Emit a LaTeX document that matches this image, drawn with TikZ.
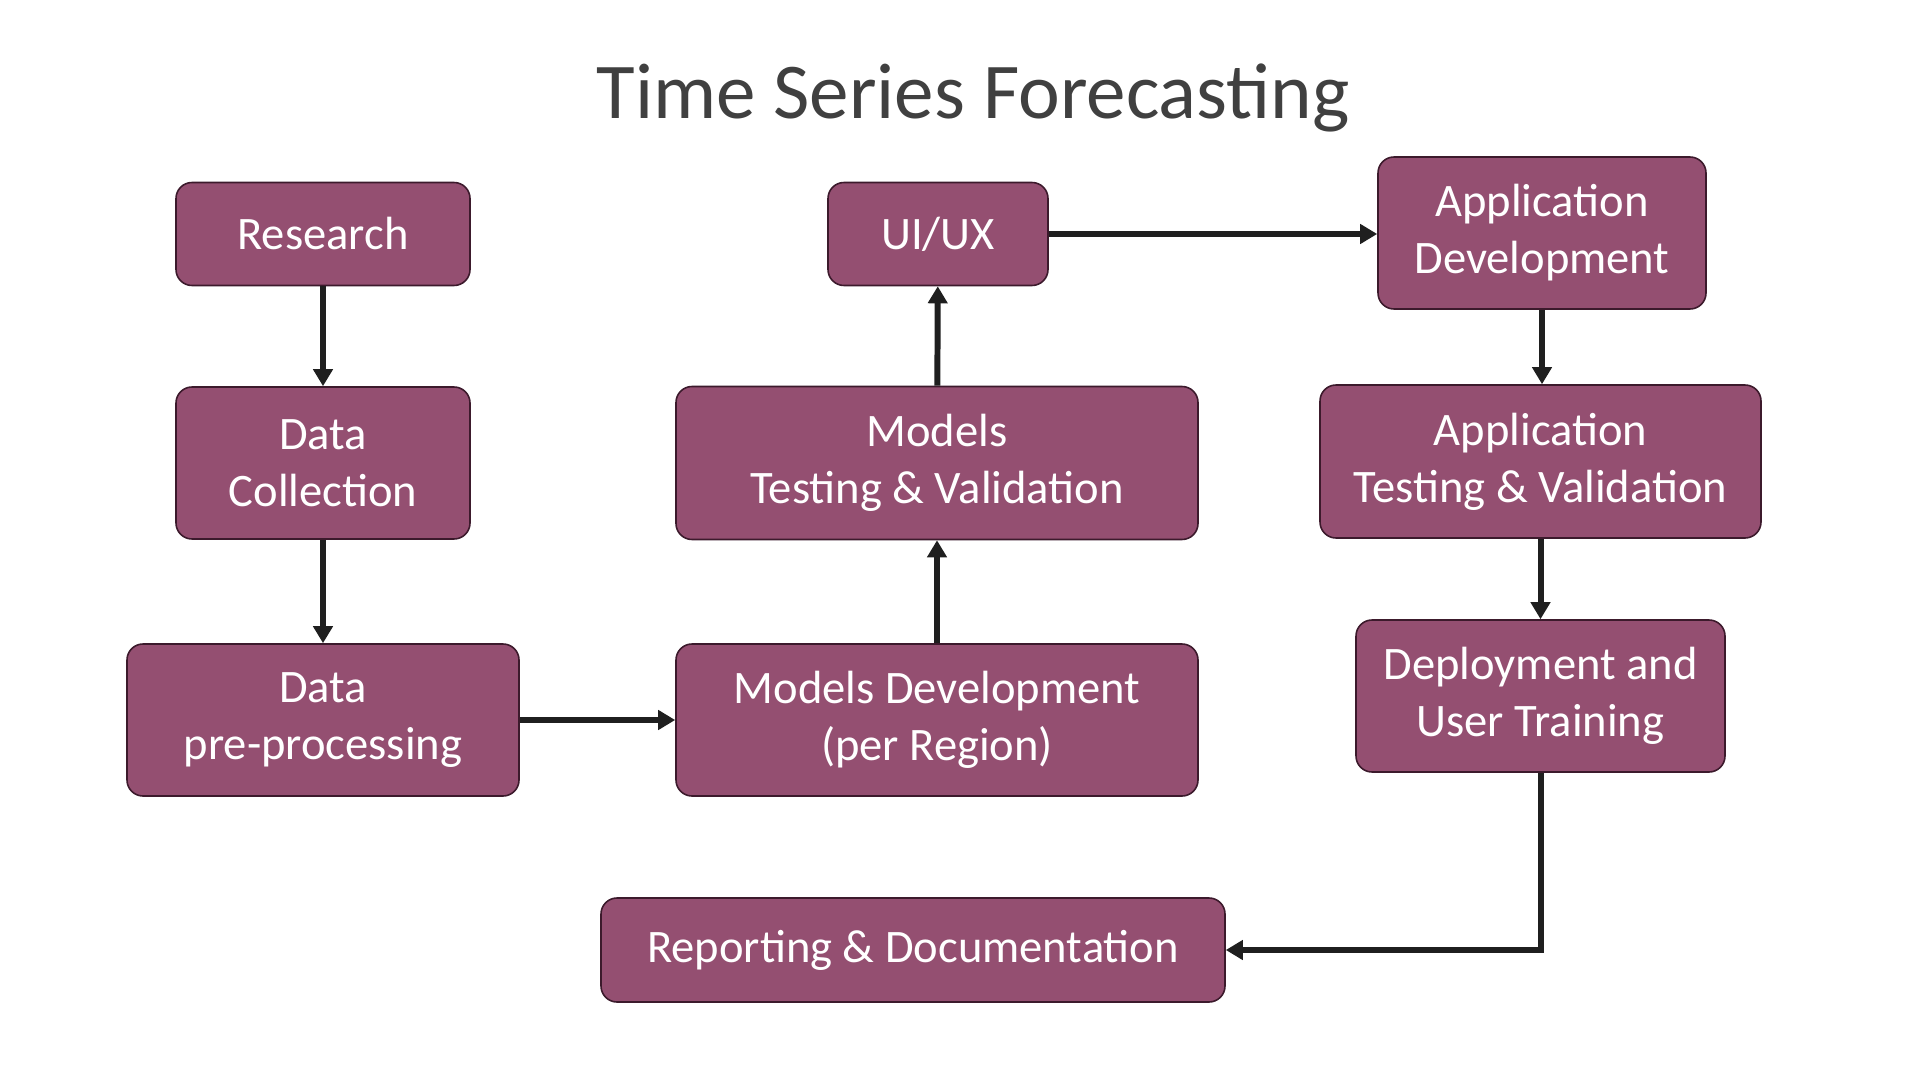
\documentclass[tikz,border=0pt]{standalone}
\usepackage{fontspec}
\setmainfont{Carlito}
\usetikzlibrary{arrows.meta, positioning}
\definecolor{boxfill}{HTML}{944F71}
\definecolor{boxline}{HTML}{3C1A2C}
\definecolor{arrowcol}{HTML}{1F1F1F}
\definecolor{titlecol}{HTML}{404040}
\tikzset{
    stepbox/.style={rectangle, rounded corners=0.32cm, draw=boxline, line width=0.9pt, fill=boxfill, text=white, align=center, font=\fontsize{26.5}{32.4}\selectfont, inner sep=0pt},
    flow/.style={draw=arrowcol, line width=3.4pt, -{Triangle[length=0.34cm, width=0.38cm]}},
}
\begin{document}
\begin{tikzpicture}
    \useasboundingbox (0,0) rectangle (38.4,-21.6);
    \node[anchor=base, text=titlecol, font=\fontsize{45}{54}\selectfont] (title) at (19.46,-2.38) {Time Series Forecasting};
    % left column
    \node[stepbox, minimum width=5.88cm, minimum height=2.06cm] (research) at (6.46,-4.68) {Research};
    \node[stepbox, minimum width=5.88cm, minimum height=3.04cm] (collect) at (6.46,-9.26) {Data\\Collection};
    \node[stepbox, minimum width=7.84cm, minimum height=3.04cm] (prep) at (6.46,-14.40) {Data\\pre-processing};
    % middle column
    \node[stepbox, minimum width=10.44cm, minimum height=3.04cm] (mdev) at (18.74,-14.40) {Models Development\\(per Region)};
    \node[stepbox, minimum width=10.44cm, minimum height=3.06cm] (mtest) at (18.74,-9.26) {Models\\Testing \& Validation};
    \node[stepbox, minimum width=4.40cm, minimum height=2.06cm] (uiux) at (18.76,-4.68) {UI/UX};
    % right column
    \node[stepbox, minimum width=6.56cm, minimum height=3.04cm] (appdev) at (30.84,-4.66) {Application\\Development};
    \node[stepbox, minimum width=8.82cm, minimum height=3.06cm] (apptest) at (30.81,-9.23) {Application\\Testing \& Validation};
    \node[stepbox, minimum width=7.38cm, minimum height=3.04cm] (deploy) at (30.81,-13.92) {Deployment and\\User Training};
    \node[stepbox, minimum width=12.48cm, minimum height=2.08cm] (report) at (18.26,-19.00) {Reporting \& Documentation};
    % connectors
    \draw[flow] (research) -- (collect);
    \draw[flow] (collect) -- (prep);
    \draw[flow] (prep) -- (mdev);
    \draw[flow] (mdev) -- (mtest);
    \draw[flow] (mtest) -- (uiux);
    \draw[flow] (uiux) -- (uiux -| appdev.west);
    \draw[flow] (appdev.south) -- (appdev.south |- apptest.north);
    \draw[flow] (apptest) -- (deploy);
    \draw[flow] (deploy.south) |- (report.east);
\end{tikzpicture}
\end{document}
